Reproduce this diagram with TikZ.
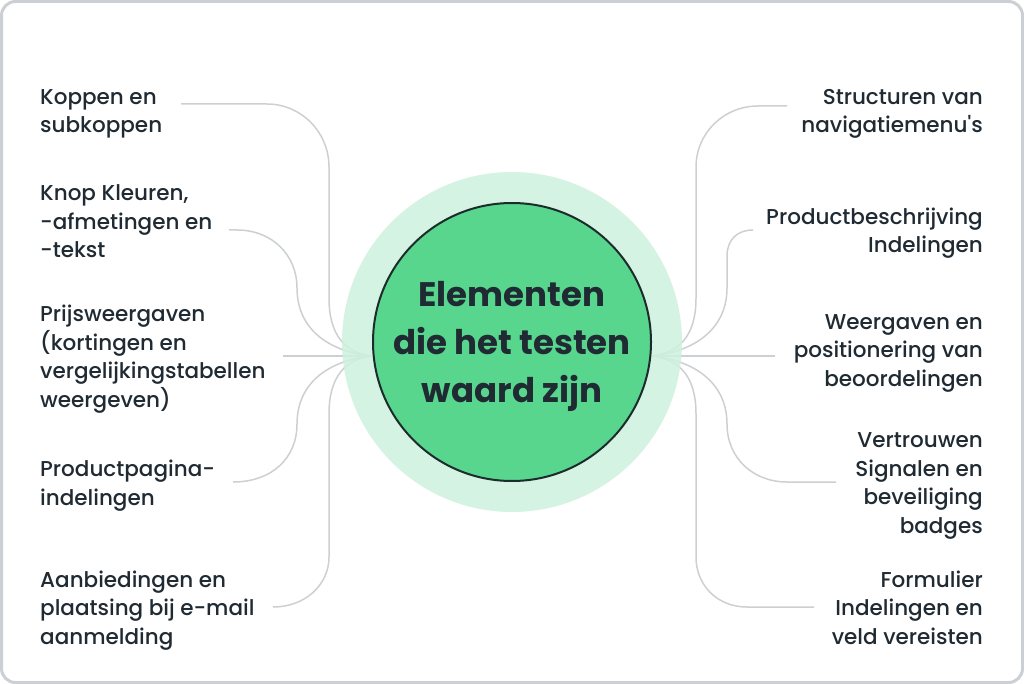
\documentclass[tikz,border=0pt]{standalone}
\usepackage{fontspec}
\setmainfont{Poppins}[Ligatures=TeXOff, UprightFont=* Medium, BoldFont=* Bold]
\usepackage{xcolor}
\usetikzlibrary{positioning}
\definecolor{framegray}{HTML}{CCCFD3}
\definecolor{linegray}{HTML}{CDD0D3}
\definecolor{halogreen}{HTML}{CEF1DD}
\definecolor{hubgreen}{HTML}{58D68D}
\definecolor{hubedge}{HTML}{1C2B2B}
\definecolor{inkdark}{HTML}{1F2A33}
\tikzset{
      x=1pt, y=-1pt,                              % pixel grid, y down
      lblleft/.style   = {anchor=base west, align=left, inner sep=0pt,
                          text=inkdark, font=\fontsize{21.5}{28.5}\selectfont},
      lblright/.style  = {anchor=base east, align=right, inner sep=0pt,
                          text=inkdark, font=\fontsize{21.5}{28.5}\selectfont},
      connector/.style = {draw=linegray, line width=1.5pt},
      halo/.style      = {fill=halogreen, fill opacity=0.85},
      hubnode/.style   = {circle, draw=hubedge, line width=2pt, fill=hubgreen,
                          minimum size=278pt, inner sep=0pt, align=center,
                          text=inkdark, font=\fontsize{34}{48}\selectfont\bfseries}
    }

\begin{document}
\begin{tikzpicture}
  \useasboundingbox (0,0) rectangle (1024,684);
  % Frame
  \draw[framegray, line width=3pt, fill=white, rounded corners=14pt] (1.5,1.5) rectangle (1022.5,682.5);
  % Meeting points on the hub
  \coordinate (hubW) at (372,356);
  \coordinate (hubE) at (651,356);
  % Left labels (placed on the baseline of their last line)
  \node[lblleft] (kop)   at (40,133) {Koppen en\\subkoppen};
  \node[lblleft] (knop)  at (40,258) {Knop Kleuren,\\-afmetingen en\\-tekst};
  \node[lblleft] (prijs) at (40,407) {Prijsweergaven\\(kortingen en\\vergelijkingstabellen\\weergeven)};
  \node[lblleft] (ppag)  at (40,505) {Productpagina-\\indelingen};
  \node[lblleft] (aanb)  at (40,644) {Aanbiedingen en\\plaatsing bij e-mail\\aanmelding};
  % Right labels
  \node[lblright] (struc) at (983,133) {Structuren van\\navigatiemenu's};
  \node[lblright] (pbes)  at (983,253) {Productbeschrijving\\Indelingen};
  \node[lblright] (weer)  at (983,386) {Weergaven en\\positionering van\\beoordelingen};
  \node[lblright] (vert)  at (983,533) {Vertrouwen\\Signalen en\\beveiliging\hspace*{5pt}\\badges};
  \node[lblright] (form)  at (983,644) {Formulier\\Indelingen en\\veld vereisten};
  % Free ends of the connectors
  \coordinate (kopEnd)   at (181,104);
  \coordinate (knopEnd)  at (229,230);
  \coordinate (prijsEnd) at (283,356);
  \coordinate (ppagEnd)  at (233,482);
  \coordinate (aanbEnd)  at (273,607);
  \coordinate (strucEnd) at (787,106);
  \coordinate (pbesEnd)  at (753,230);
  \coordinate (weerEnd)  at (775,356);
  \coordinate (vertEnd)  at (836,482);
  \coordinate (formEnd)  at (814,607);
  % Left connectors
  \draw[connector] (kopEnd) -- (267,104) .. controls (301,104) and (329,132) .. (329,167)
        -- (329,298) .. controls (329,335) and (345,353) .. (hubW);
  \draw[connector] (knopEnd) -- (237,230) .. controls (272,230) and (297,255) .. (297,288)
        .. controls (297,330) and (330,352) .. (hubW);
  \draw[connector] (prijsEnd) -- (hubW);
  \draw[connector] (ppagEnd) .. controls (272,482) and (297,458) .. (297,424)
        .. controls (297,382) and (330,360) .. (hubW);
  \draw[connector] (aanbEnd) .. controls (305,607) and (329,585) .. (329,557)
        -- (329,414) .. controls (329,377) and (345,359) .. (hubW);
  % Right connectors
  \draw[connector] (strucEnd) -- (758,106) .. controls (724,106) and (696,133) .. (696,167)
        -- (696,298) .. controls (696,335) and (680,353) .. (hubE);
  \draw[connector] (pbesEnd) .. controls (737,230) and (727,240) .. (727,256)
        -- (727,288) .. controls (727,330) and (693,352) .. (hubE);
  \draw[connector] (weerEnd) -- (hubE);
  \draw[connector] (vertEnd) -- (787,482) .. controls (753,482) and (727,458) .. (727,424)
        .. controls (727,382) and (693,360) .. (hubE);
  \draw[connector] (formEnd) -- (747,607) .. controls (717,607) and (696,585) .. (696,557)
        -- (696,414) .. controls (696,377) and (680,359) .. (hubE);
  % Halo and hub
  \fill[halo] (512,342) circle (170);
  \node[hubnode] (hub) at (512,342) {\rule{0pt}{34pt}Elementen\\die het testen\\waard zijn};
\end{tikzpicture}
\end{document}
